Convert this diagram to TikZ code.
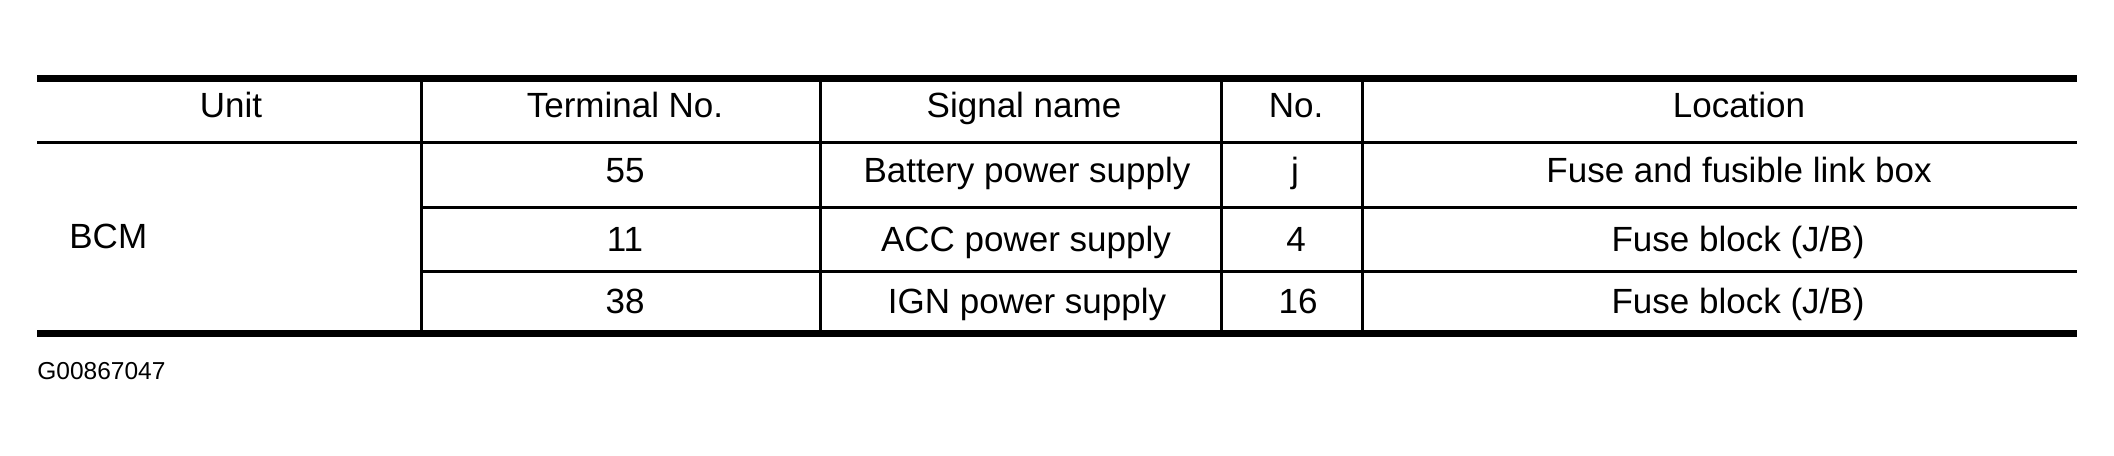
\documentclass[tikz,border=0pt]{standalone}
\usepackage{fontspec}
\setmainfont{Liberation Sans}
\begin{document}
\begin{tikzpicture}[x=0.5pt,y=-0.5pt,
  cell/.style={font=\fontsize{17.5}{20}\selectfont, inner sep=0pt, anchor=base},
  leftcell/.style={cell, anchor=base west},
  heavyrule/.style={line width=3.5pt, black},
  thinrule/.style={line width=1.5pt, black},
  figid/.style={font=\fontsize{12.25}{14}\selectfont, inner sep=0pt, anchor=base west}]
\useasboundingbox (0,0) rectangle (2114,455);
\fill[white] (0,0) rectangle (2114,455);
% rules
\draw[heavyrule] (37,78.5) -- (2077,78.5);
\draw[heavyrule] (37,333) -- (2077,333);
\draw[thinrule] (37,142) -- (2077,142);
\draw[thinrule] (421,207) -- (2077,207);
\draw[thinrule] (421,271) -- (2077,271);
% column dividers
\foreach \cx in {421,820,1221,1362}
  \draw[thinrule] (\cx,78.5) -- (\cx,333);
% header
\node[cell] (hunit) at (231,117) {Unit};
\node[cell] (hterm) at (625,117) {Terminal No.};
\node[cell] (hsig)  at (1024,117) {Signal name};
\node[cell] (hno)   at (1296,117) {No.};
\node[cell] (hloc)  at (1739,117) {Location};
% body
\node[leftcell] (bcm) at (69,248) {BCM};
\node[cell] (t1) at (625,182) {55};
\node[cell] (s1) at (1027,182) {Battery power supply};
\node[cell] (n1) at (1295,182) {j};
\node[cell] (l1) at (1739,182) {Fuse and fusible link box};
\node[cell] (t2) at (625,251) {11};
\node[cell] (s2) at (1026,251) {ACC power supply};
\node[cell] (n2) at (1296,251) {4};
\node[cell] (l2) at (1738,251) {Fuse block (J/B)};
\node[cell] (t3) at (625,313) {38};
\node[cell] (s3) at (1027,313) {IGN power supply};
\node[cell] (n3) at (1298,313) {16};
\node[cell] (l3) at (1738,313) {Fuse block (J/B)};
% figure id
\node[figid] (gid) at (37,379) {G00867047};
\end{tikzpicture}
\end{document}
